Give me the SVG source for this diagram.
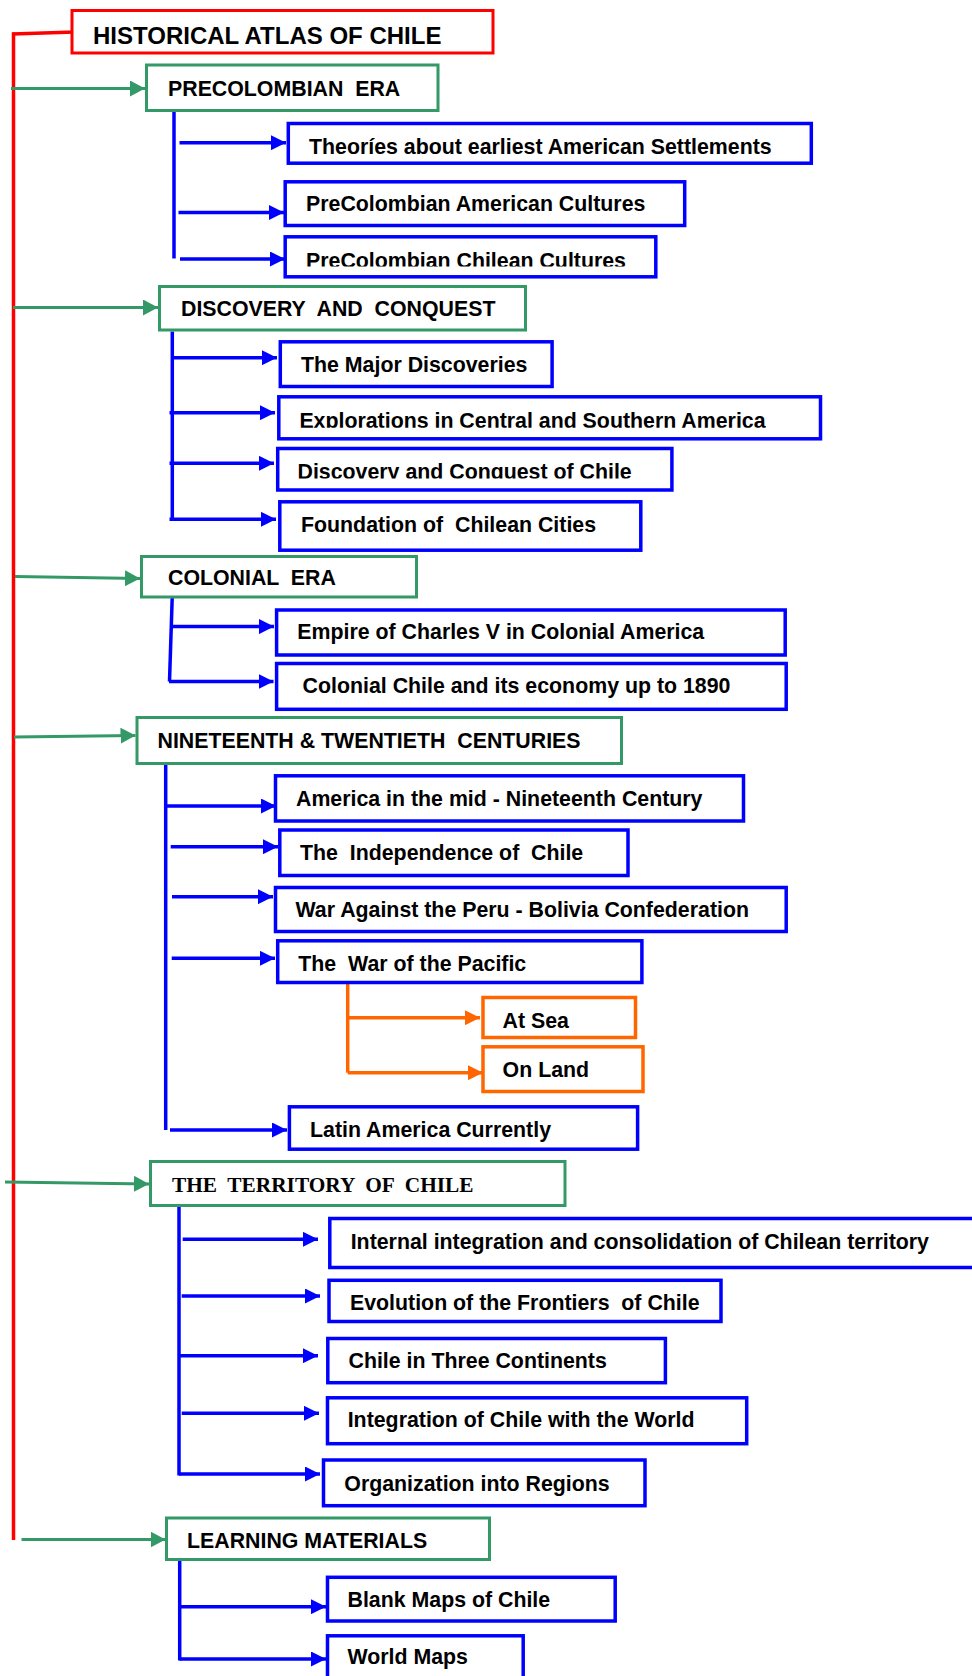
<svg xmlns="http://www.w3.org/2000/svg" width="972" height="1676" viewBox="0 0 972 1676">
<style>
  text { font-family: "Liberation Sans", Arial, sans-serif; font-weight: bold; font-size: 21.33px; fill: #000; white-space: pre; }
  .title { font-size: 24px; }
  .serif { font-family: "Liberation Serif", "Times New Roman", serif; }
  .rbox { fill: #fff; stroke: #ff0000; stroke-width: 3; }
  .gbox { fill: #fff; stroke: #339966; stroke-width: 3; }
  .bbox { fill: #fff; stroke: #0000ff; stroke-width: 3.5; }
  .obox { fill: #fff; stroke: #ff6600; stroke-width: 3.5; }
  .rl { fill: none; stroke: #ff0000; stroke-width: 3.5; }
  .gl { fill: none; stroke: #339966; stroke-width: 3; marker-end: url(#ag); }
  .bl { fill: none; stroke: #0000ff; stroke-width: 3.5; }
  .ba { fill: none; stroke: #0000ff; stroke-width: 3.5; marker-end: url(#ab); }
  .ol { fill: none; stroke: #ff6600; stroke-width: 3.5; }
  .oa { fill: none; stroke: #ff6600; stroke-width: 3.5; marker-end: url(#ao); }
</style>
<defs>
  <marker id="ag" markerUnits="userSpaceOnUse" markerWidth="15" markerHeight="16" refX="15" refY="8" orient="auto"><path d="M0,0 L15,8 L0,16 z" fill="#339966"/></marker>
  <marker id="ab" markerUnits="userSpaceOnUse" markerWidth="15" markerHeight="15" refX="15" refY="7.5" orient="auto"><path d="M0,0 L15,7.5 L0,15 z" fill="#0000ff"/></marker>
  <marker id="ao" markerUnits="userSpaceOnUse" markerWidth="15" markerHeight="15" refX="15" refY="7.5" orient="auto"><path d="M0,0 L15,7.5 L0,15 z" fill="#ff6600"/></marker>
  <clipPath id="cTheo"><rect x="280" y="120" width="540" height="34"/></clipPath>
  <clipPath id="cPCC"><rect x="280" y="236" width="380" height="30.5"/></clipPath>
  <clipPath id="cExpl"><rect x="275" y="396" width="550" height="31.8"/></clipPath>
  <clipPath id="cDisc"><rect x="275" y="447" width="400" height="31.5"/></clipPath>
</defs>

<g id="connectors">
  <polyline class="rl" points="12,34 75,32"/>
  <line class="rl" x1="13.5" y1="32.5" x2="13.5" y2="1540"/>

  <line class="gl" x1="11" y1="88.5" x2="145" y2="88.5"/>
  <line class="gl" x1="13" y1="307.5" x2="158" y2="307.5"/>
  <line class="gl" x1="15" y1="576.5" x2="140" y2="578.5"/>
  <line class="gl" x1="14" y1="737" x2="135.5" y2="735.5"/>
  <line class="gl" x1="5" y1="1182" x2="149" y2="1184"/>
  <line class="gl" x1="21.5" y1="1539.5" x2="165.5" y2="1539.5"/>

  <line class="bl" x1="174" y1="111.5" x2="174" y2="258.5"/>
  <line class="ba" x1="179.5" y1="142.7" x2="286" y2="142.7"/>
  <line class="ba" x1="178.5" y1="212.5" x2="284" y2="212.5"/>
  <line class="ba" x1="180" y1="259" x2="285" y2="259"/>

  <line class="bl" x1="172.3" y1="331.5" x2="172.3" y2="520"/>
  <line class="ba" x1="172.3" y1="357.7" x2="277" y2="357.7"/>
  <line class="ba" x1="169.5" y1="412.7" x2="275" y2="412.7"/>
  <line class="ba" x1="169.5" y1="463.3" x2="274" y2="463.3"/>
  <line class="ba" x1="169.5" y1="519.3" x2="276" y2="519.3"/>

  <line class="bl" x1="172.2" y1="597.7" x2="169.5" y2="681.5"/>
  <line class="ba" x1="171" y1="626.6" x2="274" y2="626.6"/>
  <line class="ba" x1="169" y1="681.5" x2="273.5" y2="681.5"/>

  <line class="bl" x1="165.7" y1="765" x2="165.7" y2="1130"/>
  <line class="ba" x1="165.7" y1="806" x2="276" y2="806"/>
  <line class="ba" x1="170.7" y1="846.7" x2="278" y2="846.7"/>
  <line class="ba" x1="172" y1="896.7" x2="273" y2="896.7"/>
  <line class="ba" x1="171.7" y1="958.3" x2="275" y2="958.3"/>
  <line class="ba" x1="170" y1="1130" x2="287" y2="1130"/>

  <line class="ol" x1="347.7" y1="983" x2="347.7" y2="1072.7"/>
  <line class="oa" x1="347.7" y1="1017.7" x2="480" y2="1017.7"/>
  <line class="oa" x1="347.7" y1="1072.7" x2="483" y2="1072.7"/>

  <line class="bl" x1="179" y1="1206" x2="179" y2="1475.5"/>
  <line class="ba" x1="182.7" y1="1239.3" x2="318" y2="1239.3"/>
  <line class="ba" x1="181.7" y1="1296" x2="320" y2="1296"/>
  <line class="ba" x1="179" y1="1355.7" x2="318" y2="1355.7"/>
  <line class="ba" x1="181.7" y1="1413.3" x2="319" y2="1413.3"/>
  <line class="ba" x1="179" y1="1474" x2="320" y2="1474"/>

  <line class="bl" x1="179.7" y1="1561" x2="179.7" y2="1660.5"/>
  <line class="ba" x1="179.7" y1="1606.7" x2="326" y2="1606.7"/>
  <line class="ba" x1="179.7" y1="1659" x2="326" y2="1659"/>
</g>

<g id="n-title"><rect class="rbox" x="72" y="10.5" width="421" height="42.5"/><text class="title" x="93" y="43.5">HISTORICAL ATLAS OF CHILE</text></g>

<g id="n-precolombian"><rect class="gbox" x="146.5" y="65" width="291.5" height="45.5"/><text x="168" y="96">PRECOLOMBIAN  ERA</text></g>
<g id="n-theories"><rect class="bbox" x="288.3" y="123.5" width="523" height="39.7"/><text x="309" y="154" clip-path="url(#cTheo)">Theoríes about earliest American Settlements</text></g>
<g id="n-pre-american"><rect class="bbox" x="285.2" y="181.8" width="399.5" height="43.7"/><text x="306" y="211">PreColombian American Cultures</text></g>
<g id="n-pre-chilean"><rect class="bbox" x="285.2" y="236.8" width="370.6" height="40"/><text x="306" y="267.5" clip-path="url(#cPCC)">PreColombian Chilean Cultures</text></g>

<g id="n-discovery"><rect class="gbox" x="159.5" y="286.5" width="366" height="43.5"/><text x="181" y="315.7">DISCOVERY  AND  CONQUEST</text></g>
<g id="n-major"><rect class="bbox" x="280.3" y="341.8" width="271.8" height="44.7"/><text x="301" y="371.7">The Major Discoveries</text></g>
<g id="n-explorations"><rect class="bbox" x="278.8" y="396.8" width="541.7" height="42"/><text x="299.4" y="428" clip-path="url(#cExpl)">Explorations in Central and Southern America</text></g>
<g id="n-disc-chile"><rect class="bbox" x="277.7" y="448.5" width="394.2" height="41.5"/><text x="297.5" y="478.5" clip-path="url(#cDisc)">Discovery and Conquest of Chile</text></g>
<g id="n-foundation"><rect class="bbox" x="279.8" y="501.8" width="361" height="48.4"/><text x="301" y="531.7">Foundation of  Chilean Cities</text></g>

<g id="n-colonial"><rect class="gbox" x="141.5" y="556.5" width="275" height="40.5"/><text x="168" y="585">COLONIAL  ERA</text></g>
<g id="n-empire"><rect class="bbox" x="276.6" y="610" width="508.6" height="45"/><text x="297.3" y="639.3">Empire of Charles V in Colonial America</text></g>
<g id="n-colonial-chile"><rect class="bbox" x="276.6" y="663.5" width="509.6" height="45.8"/><text x="302.6" y="693.3">Colonial Chile and its economy up to 1890</text></g>

<g id="n-nineteenth"><rect class="gbox" x="137" y="717.5" width="484.5" height="46"/><text x="157.5" y="748.3">NINETEENTH &amp; TWENTIETH  CENTURIES</text></g>
<g id="n-america-mid"><rect class="bbox" x="275.5" y="775.8" width="468" height="45.2"/><text x="296" y="806">America in the mid - Nineteenth Century</text></g>
<g id="n-independence"><rect class="bbox" x="279.8" y="830" width="348.2" height="45.5"/><text x="300" y="860">The  Independence of  Chile</text></g>
<g id="n-war-peru"><rect class="bbox" x="275.5" y="887.5" width="510.7" height="44"/><text x="295.5" y="916.7">War Against the Peru - Bolivia Confederation</text></g>
<g id="n-war-pacific"><rect class="bbox" x="277.7" y="940.8" width="364.2" height="41.7"/><text x="298.3" y="970.7">The  War of the Pacific</text></g>
<g id="n-at-sea"><rect class="obox" x="483" y="997.5" width="152.5" height="40"/><text x="502.6" y="1027.7">At Sea</text></g>
<g id="n-on-land"><rect class="obox" x="483" y="1046.8" width="160" height="44.7"/><text x="502.6" y="1076.7">On Land</text></g>
<g id="n-latin"><rect class="bbox" x="289.4" y="1106.8" width="348.2" height="42.4"/><text x="310" y="1136.7">Latin America Currently</text></g>

<g id="n-territory"><rect class="gbox" x="150.5" y="1161.5" width="414.5" height="44"/><text class="serif" x="172" y="1192.3">THE  TERRITORY  OF  CHILE</text></g>
<g id="n-internal"><rect class="bbox" x="329.8" y="1218.5" width="700" height="49"/><text x="350.7" y="1249">Internal integration and consolidation of Chilean territory</text></g>
<g id="n-evolution"><rect class="bbox" x="329" y="1280.3" width="392" height="41.2"/><text x="350" y="1310">Evolution of the Frontiers  of Chile</text></g>
<g id="n-three"><rect class="bbox" x="327.8" y="1338.5" width="337.6" height="44.2"/><text x="348.5" y="1367.7">Chile in Three Continents</text></g>
<g id="n-integration"><rect class="bbox" x="327.5" y="1397.8" width="419.2" height="45.9"/><text x="347.7" y="1427.3">Integration of Chile with the World</text></g>
<g id="n-regions"><rect class="bbox" x="323.5" y="1460" width="321.5" height="45.7"/><text x="344.3" y="1490.7">Organization into Regions</text></g>

<g id="n-learning"><rect class="gbox" x="166.5" y="1518" width="323" height="41.5"/><text x="187" y="1547.7">LEARNING MATERIALS</text></g>
<g id="n-blank"><rect class="bbox" x="327.5" y="1577.3" width="287.7" height="43.7"/><text x="347.5" y="1606.7">Blank Maps of Chile</text></g>
<g id="n-world"><rect class="bbox" x="327.5" y="1635.8" width="195.7" height="60"/><text x="347.5" y="1664.3">World Maps</text></g>
</svg>
